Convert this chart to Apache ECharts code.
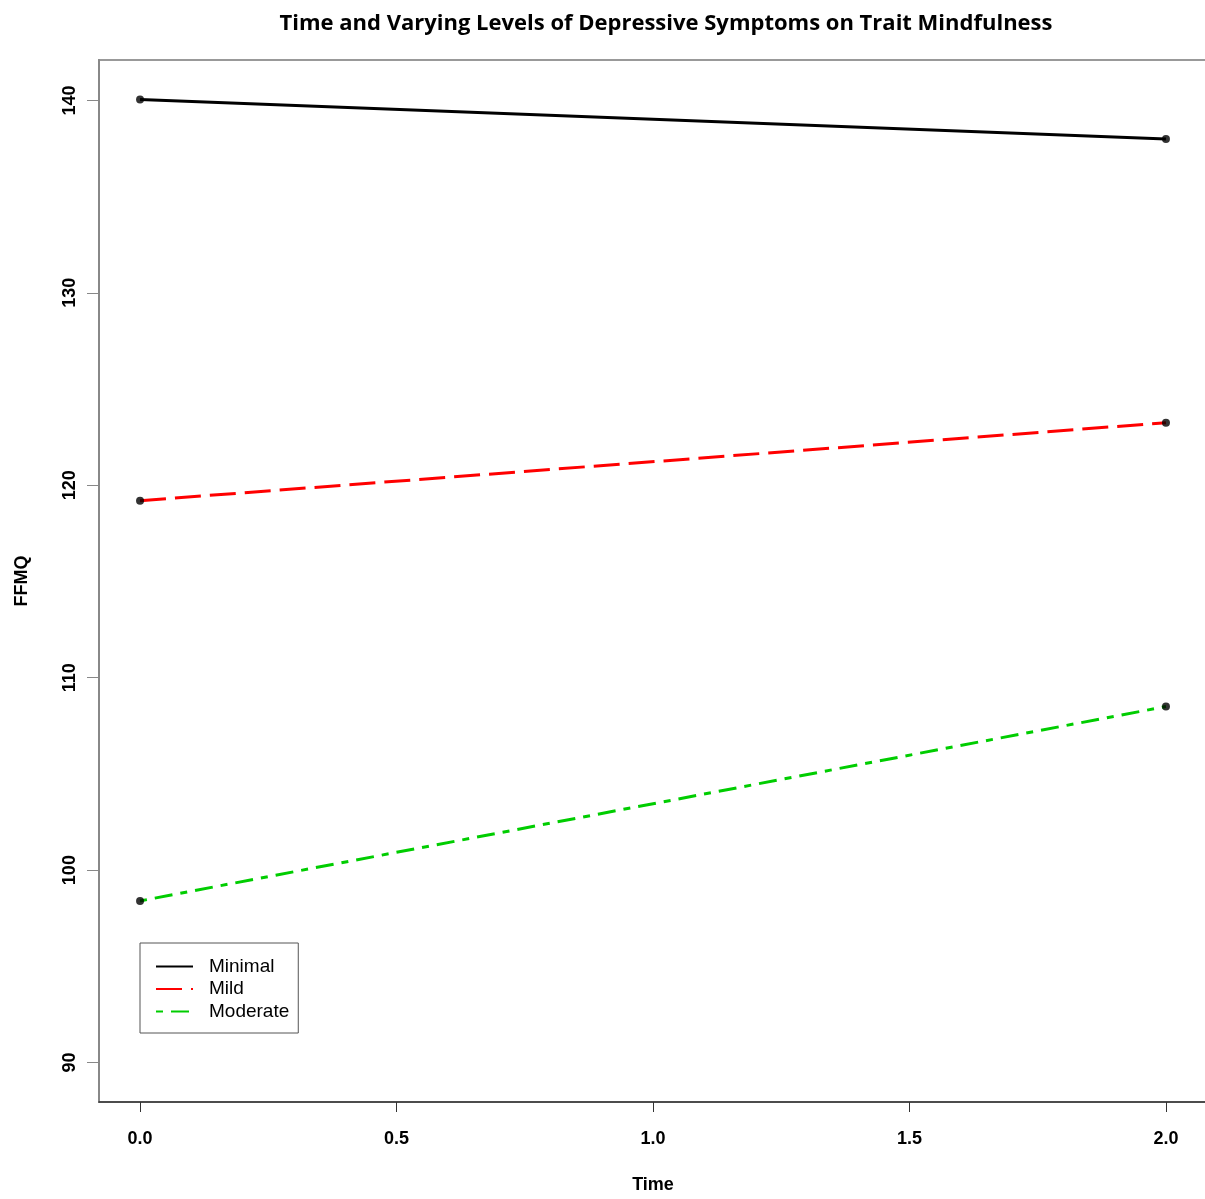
<!DOCTYPE html>
<html>
<head>
<meta charset="utf-8">
<script src="https://cdn.jsdelivr.net/npm/echarts@6/dist/echarts.min.js"></script>
<style>
  html, body { margin: 0; padding: 0; background: #fff; }
  #main { width: 1205px; height: 1199px; }
</style>
</head>
<body>
<div id="main"></div>
<script>
// data
var times = [0, 2];
var groups = ['Minimal', 'Mild', 'Moderate'];
var minimal = [140.05, 138.0];
var mild = [119.2, 123.25];
var moderate = [98.4, 108.5];
var xTicks = [0, 0.5, 1, 1.5, 2];
var yTicks = [90, 100, 110, 120, 130, 140];

var colors = ['#000000', '#ff0000', '#00cd00'];
var dashes = ['solid', [26, 9], [7, 8, 18, 8]];
var values = [minimal, mild, moderate];

function pairs(vals) {
    return times.map(function (t, i) { return [t, vals[i]]; });
}

var series = [];
groups.forEach(function (g, k) {
    series.push({
        name: g,
        type: 'line',
        data: pairs(values[k]),
        symbol: 'none',
        lineStyle: { color: colors[k], width: 3, type: dashes[k] },
        itemStyle: { color: colors[k] },
        z: 2
    });
});
// endpoint markers, black on every line
groups.forEach(function (g, k) {
    series.push({
        type: 'scatter',
        data: pairs(values[k]),
        symbol: 'circle',
        symbolSize: 8,
        itemStyle: { color: '#000' },
        z: 3
    });
});

var lbl = { fontFamily: 'Liberation Sans', fontWeight: 'bold', fontSize: 18, color: '#000' };

var chart = echarts.init(document.getElementById('main'));
chart.setOption({
    animation: false,
    title: {
        text: 'Time and Varying Levels of Depressive Symptoms on Trait Mindfulness',
        left: 661,
        textAlign: 'center',
        top: 8,
        textStyle: { fontFamily: 'Open Sans', fontWeight: 'bold', fontSize: 22, color: '#000' }
    },
    legend: {
        data: groups,
        orient: 'vertical',
        left: 140,
        top: 943,
        padding: [14, 9, 12, 15],
        itemGap: 3.5,
        itemWidth: 37,
        itemHeight: 14,
        itemStyle: { opacity: 0 },
        borderColor: '#555',
        borderWidth: 1,
        textStyle: { fontFamily: 'Liberation Sans', fontSize: 19, color: '#000', padding: [0, 0, 0, 11] }
    },
    grid: {
        left: 99,
        top: 60,
        width: 1108,
        height: 1042,
        containLabel: false,
        outerBoundsMode: 'none',
        show: true,
        borderColor: '#999',
        borderWidth: 2
    },
    xAxis: {
        type: 'value',
        min: -0.08,
        max: 2.08,
        name: 'Time',
        nameLocation: 'middle',
        nameGap: 74,
        nameTextStyle: lbl,
        splitLine: { show: false },
        axisLine: { show: true, onZero: false, lineStyle: { color: '#333', width: 1.5 } },
        axisTick: { show: true, length: 10, customValues: xTicks, lineStyle: { color: '#333' } },
        axisLabel: Object.assign({
            customValues: xTicks,
            margin: 28,
            formatter: function (v) { return v.toFixed(1); }
        }, lbl)
    },
    yAxis: {
        type: 'value',
        min: 87.95,
        max: 142.1,
        name: 'FFMQ',
        nameLocation: 'middle',
        nameGap: 68,
        nameRotate: 90,
        nameTextStyle: lbl,
        splitLine: { show: false },
        axisLine: { show: true, onZero: false, lineStyle: { color: '#888', width: 2 } },
        axisTick: { show: true, length: 12, customValues: yTicks, lineStyle: { color: '#888' } },
        axisLabel: Object.assign({
            customValues: yTicks,
            rotate: 90,
            margin: 20
        }, lbl)
    },
    series: series
});
</script>
</body>
</html>
